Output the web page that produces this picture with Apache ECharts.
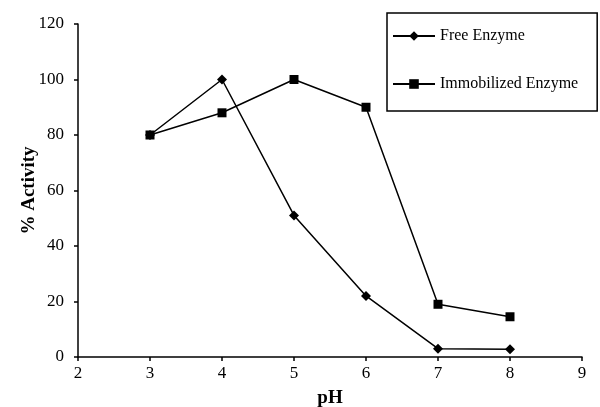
<!DOCTYPE html>
<html><head><meta charset="utf-8">
<script src="https://cdn.jsdelivr.net/npm/echarts@6/dist/echarts.min.js"></script>
<style>html,body{margin:0;padding:0;background:#fff}#c{width:600px;height:407px}</style>
</head><body><div id="c"></div>
<script>
const pH = [3, 4, 5, 6, 7, 8];
const freeEnzyme = [80, 100, 51, 22, 3, 2.8];
const immobilizedEnzyme = [80, 88, 100, 90, 19, 14.5];
const xTicks = [2, 3, 4, 5, 6, 7, 8, 9];
const yTicks = [0, 20, 40, 60, 80, 100, 120];

const font = 'Liberation Serif, Times New Roman, serif';
const chart = echarts.init(document.getElementById('c'));
chart.setOption({
  animation: false,
  backgroundColor: '#fff',
  grid: { left: 78, right: 18, top: 24, bottom: 50, containLabel: false, outerBoundsMode: 'none' },
  legend: {
    orient: 'vertical', left: 387, top: 13,
    padding: [15, 19, 19, 5], itemGap: 32, itemWidth: 42, itemHeight: 12,
    borderColor: '#000', borderWidth: 1.5,
    textStyle: { fontFamily: font, fontSize: 16, color: '#000' },
    data: ['Free Enzyme', 'Immobilized Enzyme']
  },
  xAxis: {
    type: 'value', min: xTicks[0], max: xTicks[xTicks.length - 1], interval: 1,
    name: 'pH', nameLocation: 'middle', nameGap: 32, nameMoveOverlap: false,
    nameTextStyle: { fontFamily: font, fontSize: 19, fontWeight: 'bold', color: '#000' },
    axisLine: { lineStyle: { color: '#000', width: 1.5 } },
    axisTick: { show: true, length: 4, lineStyle: { color: '#000', width: 1.5 } },
    axisLabel: { fontFamily: font, fontSize: 17, color: '#000', margin: 8 },
    splitLine: { show: false }
  },
  yAxis: {
    type: 'value', min: yTicks[0], max: yTicks[yTicks.length - 1], interval: 20,
    name: '% Activity', nameLocation: 'middle', nameGap: 39, nameRotate: 90, nameMoveOverlap: false,
    nameTextStyle: { fontFamily: font, fontSize: 19, fontWeight: 'bold', color: '#000' },
    axisLine: { show: true, lineStyle: { color: '#000', width: 1.5 } },
    axisTick: { show: true, length: 4, lineStyle: { color: '#000', width: 1.5 } },
    axisLabel: { fontFamily: font, fontSize: 17, color: '#000', margin: 14 },
    splitLine: { show: false }
  },
  series: [
    {
      name: 'Free Enzyme', type: 'line',
      data: pH.map((x, i) => [x, freeEnzyme[i]]),
      symbol: 'diamond', symbolSize: 10,
      lineStyle: { color: '#000', width: 1.5 },
      itemStyle: { color: '#000' }
    },
    {
      name: 'Immobilized Enzyme', type: 'line',
      data: pH.map((x, i) => [x, immobilizedEnzyme[i]]),
      symbol: 'rect', symbolSize: 9,
      lineStyle: { color: '#000', width: 1.5 },
      itemStyle: { color: '#000' }
    }
  ]
});
</script></body></html>
